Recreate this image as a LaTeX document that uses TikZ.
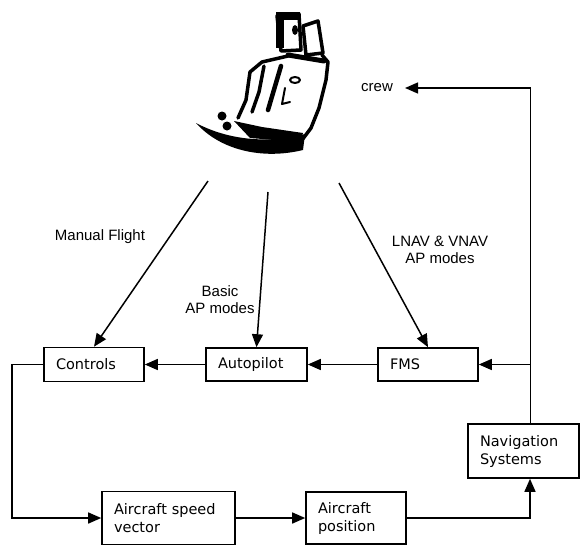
\documentclass[tikz,border=0pt]{standalone}
\usepackage{fontspec}
\setmainfont{Liberation Sans}
\newfontfamily\boxfont{DejaVu Sans}
\usetikzlibrary{arrows.meta}

\begin{document}
\begin{tikzpicture}[x=1pt,y=-1pt]

\tikzset{block/.style = {draw, rectangle, line width=1.6pt, inner xsep=12pt, inner ysep=0pt, align=left, font=\boxfont\fontsize{14.5}{18}\selectfont}}
\tikzset{edge/.style = {-{Triangle[length=13pt,width=11pt]}, line width=1.5pt}}
\tikzset{lbl/.style = {align=center, font=\fontsize{15}{17}\selectfont}}

\useasboundingbox (0,0) rectangle (580,546);

% pilot in his seat
\begin{scope}[line width=3.5pt, line join=round, line cap=round]
\fill (196,123) .. controls (220,150) and (262,160) .. (303,150) -- (305,134) .. controls (268,144) and (228,140) .. (196,123) -- cycle;
\fill (234,121) -- (262,127) -- (303,133) -- (300,142) -- (250,138) -- cycle;
\draw (302,140) -- (311,128) -- (319,108) -- (326,80) -- (328,62) -- (322,55);
\draw[fill=white] (303,26) -- (318,21) -- (323,53) -- (306,55) -- cycle;
\draw[fill=white] (277,16) -- (299,14) -- (301,50) -- (281,51) -- cycle;
\fill (276,12) rectangle (300,20);
\fill (276,14) rectangle (284,48);
\fill (295,30) ellipse (3 and 5);
\draw[line width=5pt] (288,55) -- (324,61);
\draw (288,56) -- (262,62) -- (250,72) -- (246,100) -- (238,118);
\draw (264,66) -- (259,92) -- (252,112);
\draw[line width=4.5pt] (281,66) -- (268,110);
\draw[line width=2pt] (295,80) ellipse (5 and 3);
\draw[line width=2pt] (285,88) -- (282,104) -- (290,102);
\fill (222,116) circle (4.5);
\fill (227,126) circle (4.5);
\end{scope}

\coordinate (mpil) at (208,181);
\coordinate (bpil) at (268,192);
\coordinate (lpil) at (339,183);

\node[block, text width=76pt, minimum height=34pt] (ctrl) at (94,364.5) {Controls};
\node[block, text width=77pt, minimum height=33pt] (auto) at (256.5,364.5) {Autopilot};
\node[block, text width=76pt, minimum height=33pt] (fms) at (428,364.5) {FMS};
\node[block, text width=109pt, minimum height=53pt] (speed) at (168.5,518) {Aircraft speed\\vector};
\node[block, text width=76pt, minimum height=52pt] (pos) at (356,518) {Aircraft\\position};
\node[block, text width=87pt, minimum height=54pt] (nav) at (523.5,451) {Navigation\\Systems};

\node[lbl, inner xsep=12pt] (crew) at (377,88) {crew};
\node[lbl] (manual) at (100,237) {Manual Flight};
\node[lbl] (basic) at (220,300) {Basic\\AP modes};
\node[lbl] (lnav) at (440,250) {LNAV \& VNAV\\AP modes};

\coordinate (tap) at (530.5,364.5);

\draw[edge] (mpil) -- (ctrl.north);
\draw[edge] (bpil) -- (auto.north);
\draw[edge] (lpil) -- (fms.north);
\draw[edge] (fms) -- (auto);
\draw[edge] (auto) -- (ctrl);
\draw[edge] (ctrl.west) -- ++(-31,0) |- (speed);
\draw[edge] (speed) -- (pos);
\draw[edge] (pos.east) -| ([xshift=6.5pt]nav.south);
\draw[edge] ([xshift=7pt]nav.north) |- (crew);
\draw[edge] (tap) -- (fms);

\end{tikzpicture}
\end{document}
